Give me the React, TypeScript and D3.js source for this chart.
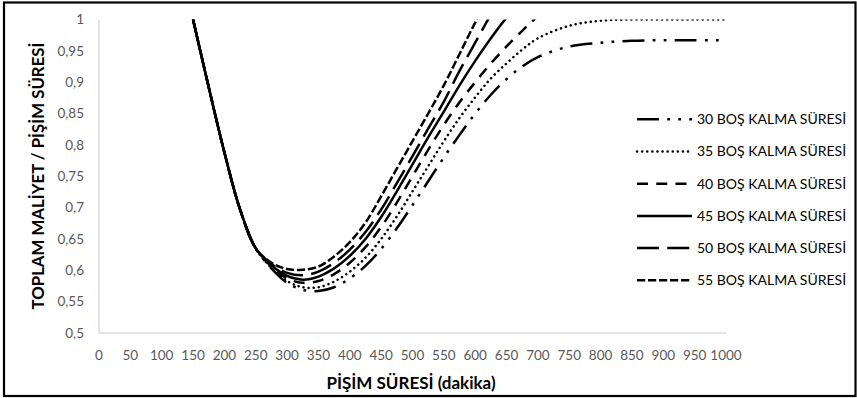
import * as d3 from "d3";
import { useEffect, useRef } from "react";

// PİŞİM SÜRESİ (dakika)
const pisimSuresi = [150, 175, 200, 225, 250, 275, 300, 325, 350, 375, 400, 425, 450, 475, 500, 525, 550, 575, 600, 625, 650, 675, 700, 750, 800, 850, 900, 950, 1000];

// toplam maliyet / pişim süresi, one array per boş kalma süresi
const bos30 = [1.0, 0.892, 0.788, 0.697, 0.635, 0.603, 0.58, 0.569, 0.567, 0.573, 0.587, 0.607, 0.634, 0.667, 0.704, 0.742, 0.78, 0.816, 0.85, 0.88, 0.905, 0.925, 0.94, 0.957, 0.963, 0.966, 0.967, 0.967, 0.967];
const bos35 = [1.0, 0.892, 0.788, 0.697, 0.635, 0.604, 0.583, 0.573, 0.573, 0.582, 0.598, 0.62, 0.65, 0.686, 0.726, 0.766, 0.806, 0.843, 0.876, 0.906, 0.93, 0.952, 0.97, 0.99, 0.998, 1.0, 1.0, 1.0, 1.0];
const bos40 = [1.0, 0.892, 0.788, 0.697, 0.635, 0.606, 0.587, 0.58, 0.583, 0.594, 0.612, 0.637, 0.669, 0.708, 0.75, 0.792, 0.832, 0.868, 0.9, 0.93, 0.957, 0.982, 1.005, 1.04];
const bos45 = [1.0, 0.892, 0.788, 0.697, 0.635, 0.608, 0.591, 0.585, 0.59, 0.603, 0.623, 0.65, 0.685, 0.726, 0.769, 0.812, 0.853, 0.895, 0.934, 0.97, 1.003, 1.03];
const bos50 = [1.0, 0.892, 0.788, 0.697, 0.635, 0.61, 0.596, 0.592, 0.598, 0.612, 0.633, 0.661, 0.697, 0.739, 0.782, 0.826, 0.869, 0.918, 0.963, 1.008, 1.05];
const bos55 = [1.0, 0.892, 0.788, 0.697, 0.635, 0.612, 0.602, 0.601, 0.606, 0.622, 0.645, 0.676, 0.718, 0.762, 0.806, 0.85, 0.895, 0.945, 0.995, 1.04];

const seriesNames = ["30 BOŞ KALMA SÜRESİ", "35 BOŞ KALMA SÜRESİ", "40 BOŞ KALMA SÜRESİ", "45 BOŞ KALMA SÜRESİ", "50 BOŞ KALMA SÜRESİ", "55 BOŞ KALMA SÜRESİ"];
const seriesValues = [bos30, bos35, bos40, bos45, bos50, bos55];

const xTicks = [0, 50, 100, 150, 200, 250, 300, 350, 400, 450, 500, 550, 600, 650, 700, 750, 800, 850, 900, 950, 1000];
const yTicks = [0.5, 0.55, 0.6, 0.65, 0.7, 0.75, 0.8, 0.85, 0.9, 0.95, 1];

export default function App() {
  const containerRef = useRef<HTMLDivElement>(null);

  useEffect(() => {
    if (!containerRef.current) return;
    document.body.style.margin = "0";
    const container = containerRef.current;
    container.innerHTML = "";

    const width = 857;
    const height = 398;
    const font = "Lato, 'Open Sans', sans-serif";

    const svg = d3
      .select(container)
      .append("svg")
      .attr("width", width)
      .attr("height", height)
      .style("display", "block")
      .style("background", "#fff");

    // outer frame
    svg.append("rect")
      .attr("x", 4)
      .attr("y", 2.5)
      .attr("width", 851.5)
      .attr("height", 393.5)
      .attr("fill", "none")
      .attr("stroke", "#000")
      .attr("stroke-width", 2.2);

    const x = d3.scaleLinear().domain([0, 1000]).range([99, 726]);
    const y = d3.scaleLinear().domain([0.5, 1]).range([333, 19.5]);

    // -----------------------------
    // AXES
    // -----------------------------
    svg.append("line")
      .attr("x1", x(0)).attr("x2", x(0))
      .attr("y1", y(1)).attr("y2", y(0.5))
      .attr("stroke", "#c8c8c8").attr("stroke-width", 1);
    svg.append("line")
      .attr("x1", x(0)).attr("x2", x(1000))
      .attr("y1", y(0.5)).attr("y2", y(0.5))
      .attr("stroke", "#c8c8c8").attr("stroke-width", 1);

    svg.append("g")
      .selectAll("text")
      .data(yTicks)
      .enter()
      .append("text")
      .attr("x", 84)
      .attr("y", (d) => y(d))
      .attr("dy", "0.35em")
      .attr("text-anchor", "end")
      .style("font-family", font)
      .style("font-size", "13.5px")
      .style("fill", "#595959")
      .text((d) => String(d).replace(".", ","));

    svg.append("g")
      .selectAll("text")
      .data(xTicks)
      .enter()
      .append("text")
      .attr("x", (d) => x(d))
      .attr("y", 355)
      .attr("dy", "0.35em")
      .attr("text-anchor", "middle")
      .style("font-family", font)
      .style("font-size", "13.5px")
      .style("fill", "#595959")
      .text((d) => String(d));

    // axis titles
    svg.append("text")
      .attr("x", 411)
      .attr("y", 383)
      .attr("dy", "0.35em")
      .attr("text-anchor", "middle")
      .style("font-family", font)
      .style("font-size", "17px")
      .style("font-weight", "bold")
      .style("fill", "#000")
      .text("PİŞİM SÜRESİ (dakika)");

    svg.append("text")
      .attr("transform", "translate(38,176) rotate(-90)")
      .attr("dy", "0.35em")
      .attr("text-anchor", "middle")
      .style("font-family", font)
      .style("font-size", "16.8px")
      .style("font-weight", "bold")
      .style("fill", "#000")
      .text("TOPLAM MALİYET / PİŞİM SÜRESİ");

    // -----------------------------
    // LINES
    // -----------------------------
    const dashes = ["22 8.25 2.75 8.25 2.75 8.25", "0.1 5", "11 8.25", "none", "22 8.25", "8.25 2.75"];
    const caps = ["butt", "round", "butt", "butt", "butt", "butt"];

    svg.append("clipPath")
      .attr("id", "plot-clip")
      .append("rect")
      .attr("x", x(0))
      .attr("y", y(1))
      .attr("width", x(1000) - x(0))
      .attr("height", y(0.5) - y(1));

    const line = d3
      .line<number>()
      .x((_, i) => x(pisimSuresi[i]))
      .y((d) => y(d))
      .curve(d3.curveCatmullRom.alpha(0.5));

    const plot = svg.append("g").attr("clip-path", "url(#plot-clip)");
    seriesValues.forEach((vals, i) => {
      plot.append("path")
        .attr("d", line(vals))
        .attr("fill", "none")
        .attr("stroke", "#000")
        .attr("stroke-width", 2.5)
        .attr("stroke-linecap", caps[i])
        .attr("stroke-dasharray", dashes[i]);
    });

    // -----------------------------
    // LEGEND
    // -----------------------------
    const legend = svg.append("g");
    seriesNames.forEach((name, i) => {
      const ly = 119.3 + i * 32.2;
      legend.append("line")
        .attr("x1", 637).attr("x2", 692)
        .attr("y1", ly).attr("y2", ly)
        .attr("stroke", "#000")
        .attr("stroke-width", 2.5)
        .attr("stroke-linecap", caps[i])
        .attr("stroke-dasharray", dashes[i]);
      legend.append("text")
        .attr("x", 697)
        .attr("y", ly)
        .attr("dy", "0.35em")
        .style("font-family", font)
        .style("font-size", "14px")
        .style("fill", "#000")
        .text(name);
    });
  }, []);

  return <div ref={containerRef} />;
}
